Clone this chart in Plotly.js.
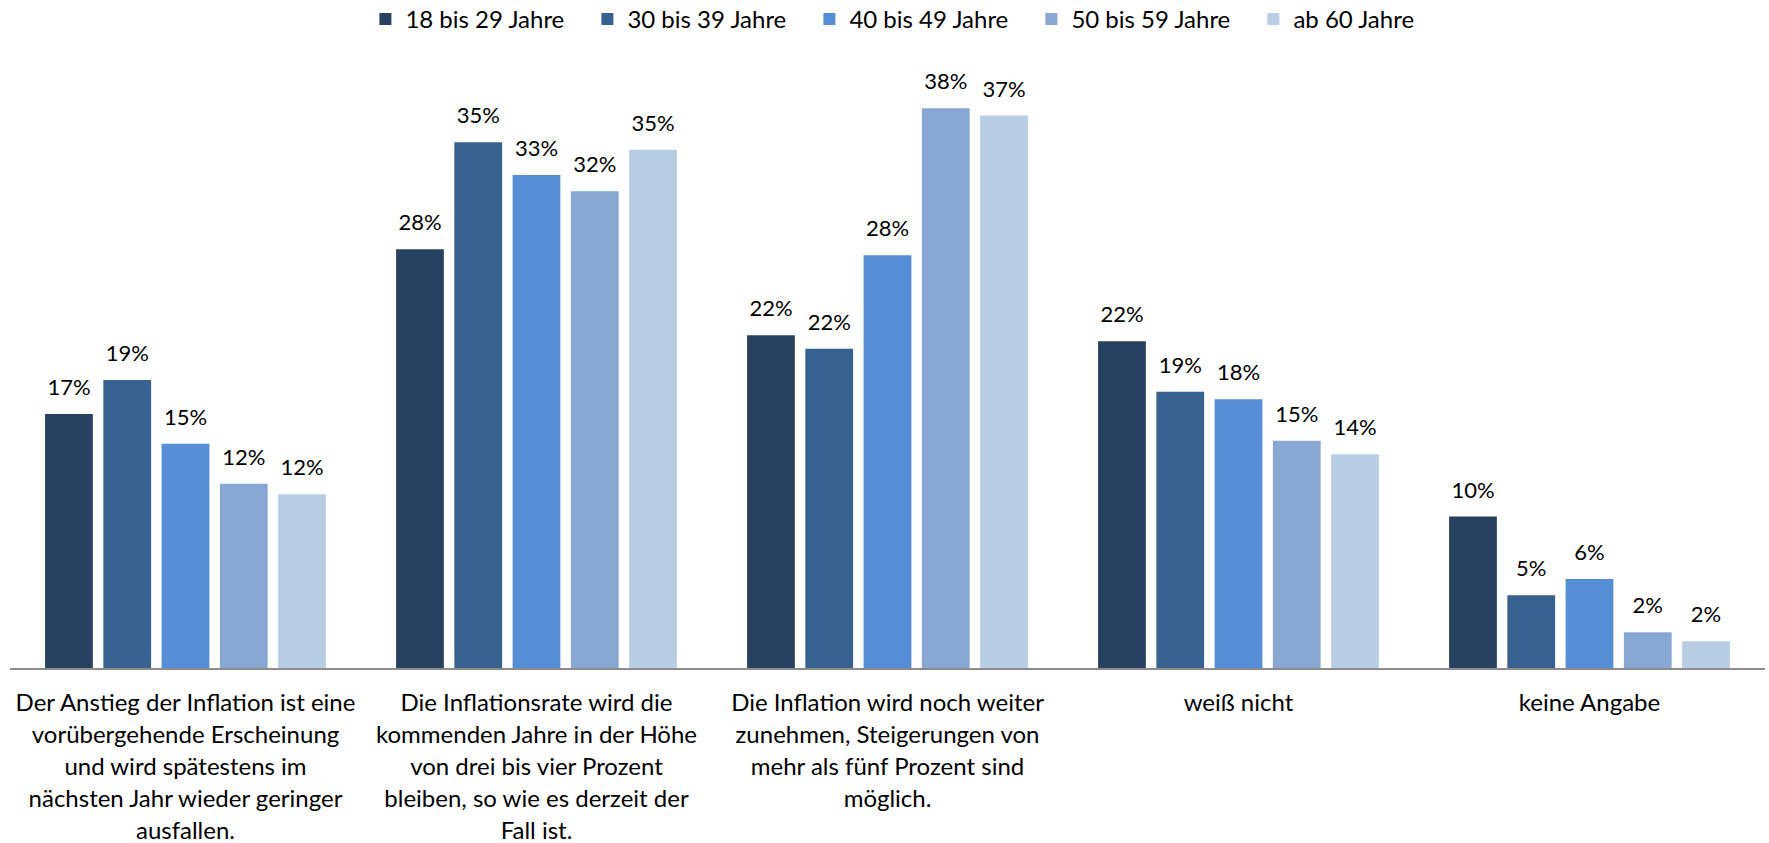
<!DOCTYPE html>
<html>
<head>
<meta charset="utf-8">
<script src="https://cdn.plot.ly/plotly-3.0.1.min.js"></script>
<style>html,body{margin:0;padding:0;background:#fff;}#chart{width:1769px;height:843px;}</style>
</head>
<body>
<div id="chart"></div>
<script>
var categories = [
  "Der Anstieg der Inflation ist eine<br>vorübergehende Erscheinung<br>und wird spätestens im<br>nächsten Jahr wieder geringer<br>ausfallen.",
  "Die Inflationsrate wird die<br>kommenden Jahre in der Höhe<br>von drei bis vier Prozent<br>bleiben, so wie es derzeit der<br>Fall ist.",
  "Die Inflation wird noch weiter<br>zunehmen, Steigerungen von<br>mehr als fünf Prozent sind<br>möglich.",
  "weiß nicht",
  "keine Angabe"
];
var seriesNames = ["18 bis 29 Jahre", "30 bis 39 Jahre", "40 bis 49 Jahre", "50 bis 59 Jahre", "ab 60 Jahre"];
var age18to29 = [17.1, 28.2, 22.4, 22.0, 10.2];
var age30to39 = [19.4, 35.4, 21.5, 18.6, 4.9];
var age40to49 = [15.1, 33.2, 27.8, 18.1, 6.0];
var age50to59 = [12.4, 32.1, 37.7, 15.3, 2.4];
var age60plus = [11.7, 34.9, 37.2, 14.4, 1.8];
var seriesValues = [age18to29, age30to39, age40to49, age50to59, age60plus];
var colors = ["#284161", "#37618f", "#558ed5", "#88a8d3", "#b9cde5"];

var FONT = "Lato, 'Open Sans', sans-serif";
var traces = [];
seriesValues.forEach(function (vals, i) {
  traces.push({
    type: "bar",
    name: seriesNames[i],
    x: categories,
    y: vals,
    offsetgroup: String(i),
    marker: { color: colors[i] },
    hoverinfo: "skip"
  });
});
seriesValues.forEach(function (vals, i) {
  traces.push({
    type: "scatter",
    mode: "markers+text",
    orientation: "v",
    offsetgroup: String(i),
    x: categories,
    y: vals,
    text: vals.map(function (v) { return Math.round(v) + "%"; }),
    textposition: "top center",
    textfont: { family: FONT, size: 22, color: "#000000" },
    marker: { size: 20, opacity: 0 },
    showlegend: false,
    hoverinfo: "skip",
    cliponaxis: false
  });
});

var layout = {
  width: 1769,
  height: 843,
  margin: { l: 10, r: 4, t: 74, b: 175, pad: 0, autoexpand: false },
  paper_bgcolor: "#ffffff",
  plot_bgcolor: "#ffffff",
  barmode: "group",
  bargap: 0.17,
  bargroupgap: 0.18,
  scattermode: "group",
  scattergap: 0.17,
  font: { family: FONT, color: "#000000" },
  showlegend: true,
  legend: {
    orientation: "h",
    x: 0.2025, xanchor: "left",
    y: 1.092, yanchor: "middle",
    font: { family: FONT, size: 24, color: "#000000" },
    entrywidth: 177,
    entrywidthmode: "pixels",
    traceorder: "normal"
  },
  xaxis: {
    type: "category",
    showline: true,
    linecolor: "#8c8c8c",
    linewidth: 1.5,
    ticks: "",
    showgrid: false,
    tickfont: { family: FONT, size: 24, color: "#000000" },
    ticklabelstandoff: 13,
    automargin: false
  },
  yaxis: {
    range: [0, 40],
    showgrid: false,
    zeroline: false,
    showline: false,
    showticklabels: false,
    ticks: "",
    automargin: false
  }
};

Plotly.newPlot("chart", traces, layout, { displayModeBar: false, staticPlot: true }).then(function (gd) {
  // match the line spacing of the multi-line category labels to the reference
  gd.querySelectorAll(".xtick text").forEach(function (t) {
    var lines = t.querySelectorAll("tspan.line");
    lines.forEach(function (ln, k) {
      ln.setAttribute("dy", (k * 1.325) + "em");
    });
  });
});
</script>
</body>
</html>
